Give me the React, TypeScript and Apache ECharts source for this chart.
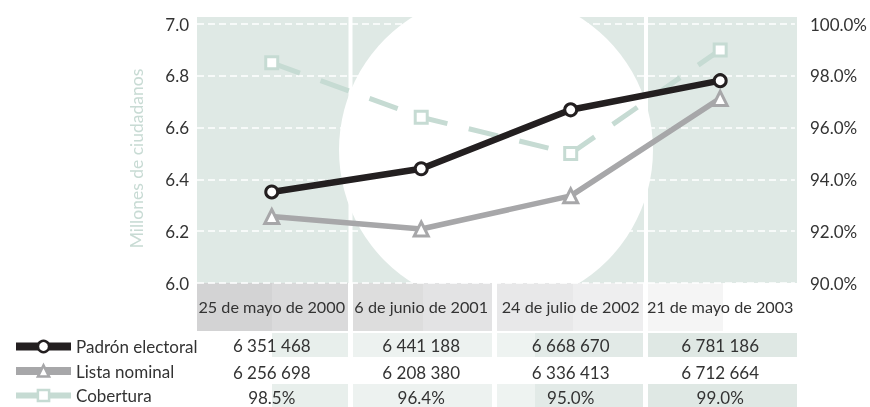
import React, { useEffect, useRef } from "react";
import * as echarts from "echarts";

const categories = ["25 de mayo de 2000", "6 de junio de 2001", "24 de julio de 2002", "21 de mayo de 2003"];
const padron = [6351468, 6441188, 6668670, 6781186];
const lista = [6256698, 6208380, 6336413, 6712664];
const cobertura = [98.5, 96.4, 95.0, 99.0];
const leftTicks = { min: 6, max: 7, interval: 0.2 };
const rightTicks = { min: 90, max: 100, interval: 2 };

const FONT = "Lato";
const TXT = "#333333";
const BLACK = "#231f20";
const GRAY = "#a7a7a9";
const GREEN = "#c6dbd3";

const fmtInt = (v: number) => String(v).replace(/\B(?=(\d{3})+(?!\d))/g, " ");
const fmtPct = (v: number) => v.toFixed(1) + "%";

function rect(x: number, y: number, w: number, h: number, fill: string, z: number) {
  return { type: "rect", silent: true, z, shape: { x, y, width: w, height: h }, style: { fill } };
}

export default function App() {
  const ref = useRef<HTMLDivElement>(null);
  useEffect(() => {
    if (!ref.current) return;
    const chart = echarts.init(ref.current, null, { renderer: "svg" });

    const headerSegs: [number, number, string][] = [
      [197, 272, "#d3d3d4"], [272, 348, "#dadadb"], [353, 423, "#dddddd"], [423, 492, "#e3e3e4"],
      [497, 573, "#e8e8e9"], [573, 643, "#eeeeef"], [648, 723, "#f5f5f5"], [723, 797, "#ffffff"],
    ];
    const rowSegs: [number, number, string][] = [
      [272, 348, "#e8efec"], [353, 492, "#edf2f0"], [497, 535, "#eef3f1"], [535, 643, "#e2eae7"], [648, 797, "#dfe8e4"],
    ];
    const graphics: any[] = [
      rect(197, 17, 600, 266, "#dfe9e5", -20),
      { type: "circle", silent: true, z: -19, shape: { cx: 496, cy: 150, r: 157 }, style: { fill: "#ffffff" } },
      ...headerSegs.map(([a, b, c]) => rect(a, 283, b - a, 48, c, -18)),
      ...rowSegs.map(([a, b, c]) => rect(a, 333, b - a, 24, c, -18)),
      ...rowSegs.map(([a, b, c]) => rect(a, 384, b - a, 23, c, -18)),
      rect(348.5, 17, 4, 390, "#ffffff", -17),
      rect(492.5, 17, 4, 390, "#ffffff", -17),
      rect(644, 17, 4, 390, "#ffffff", -17),
    ];

    const tableAxis = (data: string[], offset: number) => ({
      type: "category",
      gridIndex: 0,
      position: "bottom",
      offset,
      data,
      boundaryGap: true,
      axisLine: { show: false },
      axisTick: { show: false },
      splitLine: { show: false },
      axisLabel: { interval: 0, margin: 0, color: TXT, fontSize: 17, fontFamily: FONT },
    });

    chart.setOption({
      animation: false,
      textStyle: { fontFamily: FONT },
      grid: { left: 197, right: 73, top: 24, bottom: 124, containLabel: false },
      graphic: graphics,
      legend: {
        orient: "vertical",
        left: 12,
        top: 338,
        height: 100,
        padding: 0,
        itemWidth: 55,
        itemHeight: 14,
        itemGap: 7.5,
        textStyle: { color: TXT, fontSize: 17, lineHeight: 14, fontFamily: FONT },
        data: [
          { name: "Padrón electoral", lineStyle: { color: BLACK, width: 8, type: "solid" }, itemStyle: { color: "#fff", borderColor: BLACK, borderWidth: 2.5 } },
          { name: "Lista nominal", lineStyle: { color: GRAY, width: 8, type: "solid" }, itemStyle: { color: "#fff", borderColor: GRAY, borderWidth: 2.5 } },
          { name: "Cobertura", lineStyle: { color: GREEN, width: 6, type: "solid" }, itemStyle: { color: "#fff", borderColor: GREEN, borderWidth: 2.5 } },
        ],
      },
      xAxis: [
        {
          type: "category",
          position: "bottom",
          data: categories,
          boundaryGap: true,
          axisLine: { show: false },
          axisTick: { show: false },
          splitLine: { show: false },
          axisLabel: { interval: 0, margin: 15, color: TXT, fontSize: 16.2, fontFamily: FONT },
        },
        tableAxis(padron.map(fmtInt), 53.5),
        tableAxis(lista.map(fmtInt), 80.5),
        tableAxis(cobertura.map(fmtPct), 105.5),
      ],
      yAxis: [
        {
          type: "value",
          position: "left",
          ...leftTicks,
          name: "Millones de ciudadanos",
          nameLocation: "middle",
          nameGap: 52,
          nameTextStyle: { color: "#c8dbd4", fontSize: 17.5, fontFamily: FONT, padding: [0, 10, 0, 0] },
          axisLine: { show: false },
          axisTick: { show: false },
          axisLabel: { margin: 8, color: TXT, fontSize: 17, fontFamily: FONT, formatter: (v: number) => v.toFixed(1) },
          splitLine: { show: true, lineStyle: { color: "#ffffff", width: 1.5, type: [7, 4] } },
        },
        {
          type: "value",
          position: "right",
          ...rightTicks,
          axisLine: { show: false },
          axisTick: { show: false },
          axisLabel: { margin: 15, color: TXT, fontSize: 17, fontFamily: FONT, formatter: (v: number) => v.toFixed(1) + "%" },
          splitLine: { show: false },
        },
      ],
      series: [
        {
          name: "Cobertura",
          type: "line",
          xAxisIndex: 0,
          yAxisIndex: 1,
          data: cobertura,
          symbol: "rect",
          symbolSize: 12,
          lineStyle: { color: GREEN, width: 5, type: [30, 22] },
          itemStyle: { color: "#ffffff", borderColor: GREEN, borderWidth: 3 },
          z: 3,
        },
        {
          name: "Lista nominal",
          type: "line",
          xAxisIndex: 0,
          yAxisIndex: 0,
          data: lista.map((v) => v / 1e6),
          symbol: "triangle",
          symbolSize: 14,
          lineStyle: { color: GRAY, width: 5.5 },
          itemStyle: { color: "#ffffff", borderColor: GRAY, borderWidth: 3 },
          z: 4,
        },
        {
          name: "Padrón electoral",
          type: "line",
          xAxisIndex: 0,
          yAxisIndex: 0,
          data: padron.map((v) => v / 1e6),
          symbol: "circle",
          symbolSize: 12,
          lineStyle: { color: BLACK, width: 6.5 },
          itemStyle: { color: "#ffffff", borderColor: BLACK, borderWidth: 3 },
          z: 5,
        },
      ],
    });
    return () => chart.dispose();
  }, []);
  return <div ref={ref} style={{ position: "fixed", left: 0, top: 0, width: 870, height: 407 }} />;
}
